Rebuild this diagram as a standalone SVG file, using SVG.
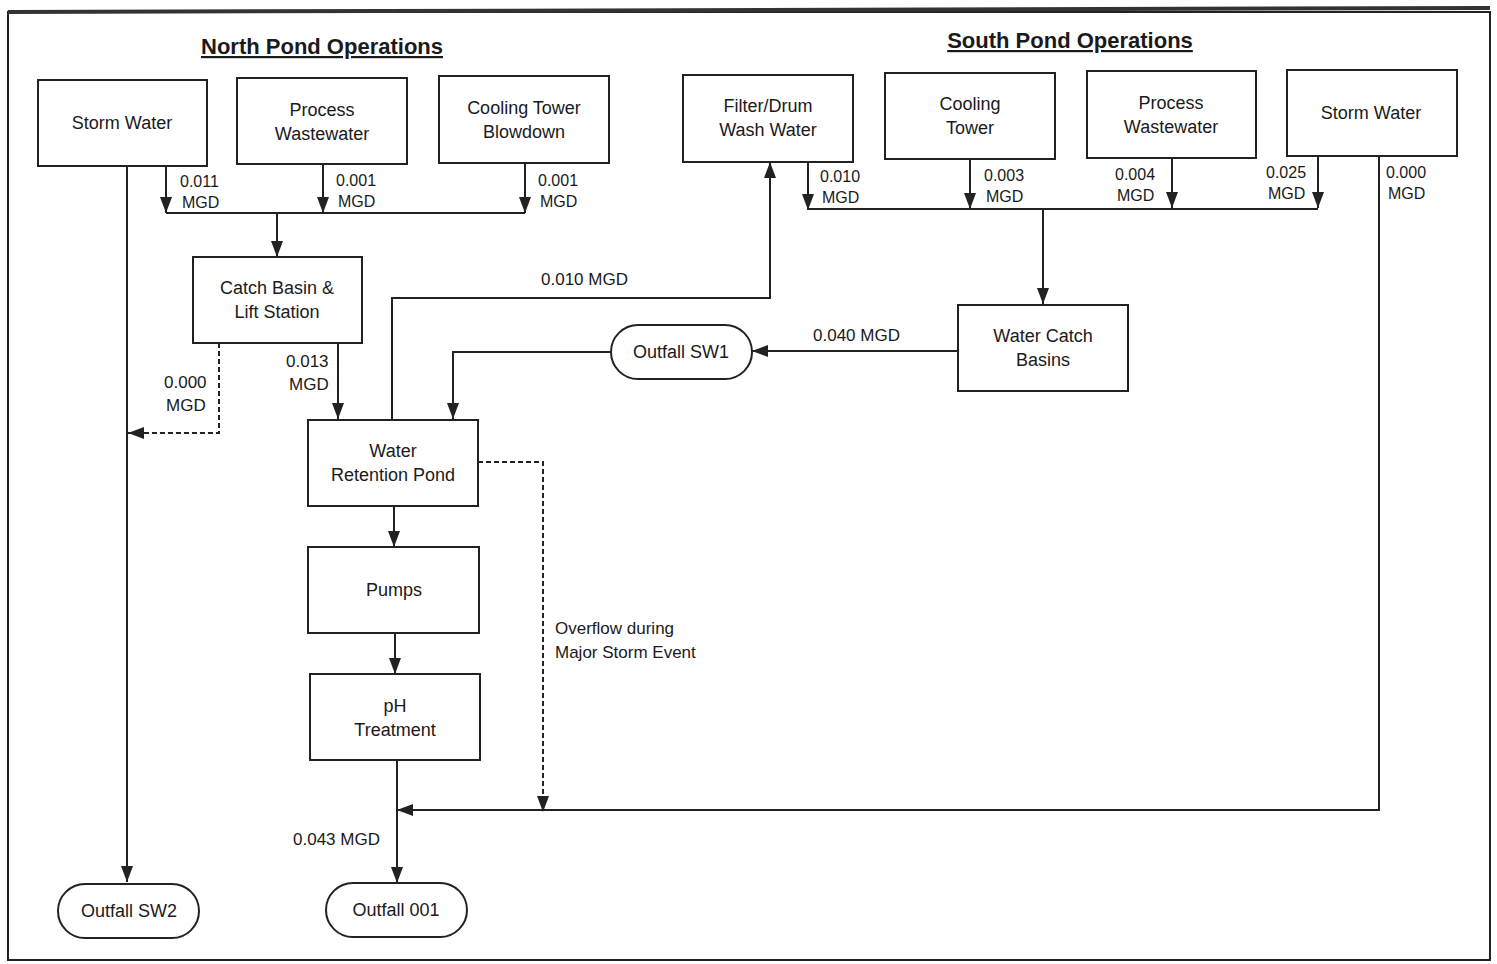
<svg xmlns="http://www.w3.org/2000/svg" width="1497" height="964" viewBox="0 0 1497 964">
<defs>
<marker id="ah" viewBox="0 0 16 12" refX="16" refY="6" markerWidth="16" markerHeight="12" markerUnits="userSpaceOnUse" orient="auto">
<path d="M0,0 L16,6 L0,12 Z" fill="#222"/>
</marker>
</defs>
<style>
.box{fill:#fff;stroke:#222;stroke-width:2}
.t{font-family:"Liberation Sans",Arial,sans-serif;font-size:18px;fill:#1a1a1a;text-anchor:middle}
.s{font-family:"Liberation Sans",Arial,sans-serif;font-size:16px;fill:#1a1a1a}
.m{font-family:"Liberation Sans",Arial,sans-serif;font-size:17px;fill:#1a1a1a}
.h{font-family:"Liberation Sans",Arial,sans-serif;font-size:22px;font-weight:bold;fill:#1a1a1a;text-anchor:middle;text-decoration:underline}
.ln{fill:none;stroke:#222;stroke-width:2}
.ar{fill:none;stroke:#222;stroke-width:2;marker-end:url(#ah)}
.da{fill:none;stroke:#222;stroke-width:2;stroke-dasharray:5,3;marker-end:url(#ah)}
</style>
<rect x="0" y="0" width="1497" height="964" fill="#fff"/>
<rect x="8" y="12" width="1482" height="948" fill="none" stroke="#222" stroke-width="2"/>
<line x1="8" y1="12" x2="1490" y2="8" stroke="#333" stroke-width="4"/>
<text class="h" x="322" y="54">North Pond Operations</text>
<text class="h" x="1070" y="48">South Pond Operations</text>

<g id="connectors">
<path class="ar" d="M127,166 V882"/>
<path class="ar" d="M166,166 V213"/>
<path class="ar" d="M323,164 V213"/>
<path class="ar" d="M525,163 V213"/>
<path class="ln" d="M166,213 H525"/>
<path class="ar" d="M277,213 V257"/>
<path class="da" d="M219,343 V433 H128"/>
<path class="ar" d="M338,343 V419"/>
<path class="ar" d="M392,420 V298 H770 V162"/>
<path class="ar" d="M808,162 V210"/>
<path class="ar" d="M970,159 V209"/>
<path class="ar" d="M1172,158 V208"/>
<path class="ar" d="M1318,156 V208"/>
<path class="ln" d="M808,209 H1318"/>
<path class="ar" d="M1043,209 V304"/>
<path class="ar" d="M958,351 H752"/>
<path class="ar" d="M611,352 H453 V419"/>
<path class="da" d="M478,462 H543 V812"/>
<path class="ar" d="M394,506 V547"/>
<path class="ar" d="M395,633 V674"/>
<path class="ar" d="M397,760 V883"/>
<path class="ar" d="M1379,156 V810 H397"/>
<text class="s" x="180" y="187">0.011</text>
<text class="s" x="182" y="208">MGD</text>
<text class="s" x="336" y="186">0.001</text>
<text class="s" x="338" y="207">MGD</text>
<text class="s" x="538" y="186">0.001</text>
<text class="s" x="540" y="207">MGD</text>
<text class="s" x="820" y="182">0.010</text>
<text class="s" x="822" y="203">MGD</text>
<text class="s" x="984" y="181">0.003</text>
<text class="s" x="986" y="202">MGD</text>
<text class="s" x="1115" y="180">0.004</text>
<text class="s" x="1117" y="201">MGD</text>
<text class="s" x="1266" y="178">0.025</text>
<text class="s" x="1268" y="199">MGD</text>
<text class="s" x="1386" y="178">0.000</text>
<text class="s" x="1388" y="199">MGD</text>
<text class="m" x="541" y="285">0.010 MGD</text>
<text class="m" x="813" y="341">0.040 MGD</text>
<text class="m" x="286" y="367">0.013</text>
<text class="m" x="289" y="390">MGD</text>
<text class="m" x="164" y="388">0.000</text>
<text class="m" x="166" y="411">MGD</text>
<text class="m" x="555" y="634">Overflow during</text>
<text class="m" x="555" y="658">Major Storm Event</text>
<text class="m" x="293" y="845">0.043 MGD</text>
</g>

<g id="n-storm-north"><rect class="box" x="38" y="80" width="169" height="86"/><text class="t" x="122" y="129">Storm Water</text></g>
<g id="n-process-north"><rect class="box" x="237" y="78" width="170" height="86"/><text class="t" x="322" y="116">Process</text><text class="t" x="322" y="140">Wastewater</text></g>
<g id="n-cooling-north"><rect class="box" x="439" y="76" width="170" height="87"/><text class="t" x="524" y="114">Cooling Tower</text><text class="t" x="524" y="138">Blowdown</text></g>
<g id="n-catch"><rect class="box" x="193" y="257" width="169" height="86"/><text class="t" x="277" y="294">Catch Basin &amp;</text><text class="t" x="277" y="318">Lift Station</text></g>
<g id="n-pond"><rect class="box" x="308" y="420" width="170" height="86"/><text class="t" x="393" y="457">Water</text><text class="t" x="393" y="481">Retention Pond</text></g>
<g id="n-pumps"><rect class="box" x="308" y="547" width="171" height="86"/><text class="t" x="394" y="596">Pumps</text></g>
<g id="n-ph"><rect class="box" x="310" y="674" width="170" height="86"/><text class="t" x="395" y="712">pH</text><text class="t" x="395" y="736">Treatment</text></g>
<g id="n-sw2"><rect class="box" x="58" y="884" width="141" height="54" rx="27"/><text class="t" x="129" y="917">Outfall SW2</text></g>
<g id="n-001"><rect class="box" x="326" y="883" width="141" height="54" rx="27"/><text class="t" x="396" y="916">Outfall 001</text></g>
<g id="n-sw1"><rect class="box" x="611" y="325" width="141" height="54" rx="27"/><text class="t" x="681" y="358">Outfall SW1</text></g>
<g id="n-filter"><rect class="box" x="683" y="75" width="170" height="87"/><text class="t" x="768" y="112">Filter/Drum</text><text class="t" x="768" y="136">Wash Water</text></g>
<g id="n-cooling-south"><rect class="box" x="885" y="73" width="170" height="86"/><text class="t" x="970" y="110">Cooling</text><text class="t" x="970" y="134">Tower</text></g>
<g id="n-process-south"><rect class="box" x="1087" y="71" width="169" height="87"/><text class="t" x="1171" y="109">Process</text><text class="t" x="1171" y="133">Wastewater</text></g>
<g id="n-storm-south"><rect class="box" x="1287" y="70" width="170" height="86"/><text class="t" x="1371" y="119">Storm Water</text></g>
<g id="n-wcb"><rect class="box" x="958" y="305" width="170" height="86"/><text class="t" x="1043" y="342">Water Catch</text><text class="t" x="1043" y="366">Basins</text></g>
</svg>
